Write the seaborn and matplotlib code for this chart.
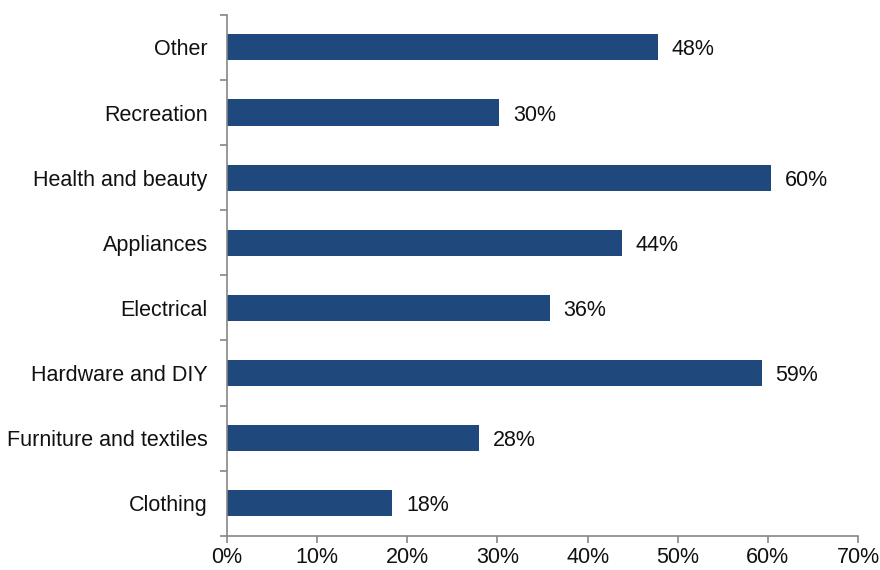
import matplotlib.pyplot as plt
import matplotlib.ticker as mticker
import numpy as np
import pandas as pd
import seaborn as sns

categories = ['Other', 'Recreation', 'Health and beauty', 'Appliances',
              'Electrical', 'Hardware and DIY', 'Furniture and textiles', 'Clothing']
shares = [47.8, 30.2, 60.4, 43.8, 35.8, 59.3, 27.9, 18.3]

df = pd.DataFrame({'category': categories, 'share': shares})

sns.set_theme(style='white')
plt.rcParams['font.family'] = ['Liberation Sans', 'DejaVu Sans']

fig, ax = plt.subplots(figsize=(8.8, 5.7), dpi=100)
fig.subplots_adjust(left=0.258, right=0.975, top=0.974, bottom=0.06)

sns.barplot(data=df, x='share', y='category', orient='h', color='#1F497D',
            saturation=1, width=0.4, linewidth=0, ax=ax)

texts = ax.bar_label(ax.containers[0], labels=[f'{v:.0f}%' for v in shares],
                     padding=10, fontsize=15.5, color='#111111')
for t in texts:
    t.set_verticalalignment('center_baseline')

ax.set_xlim(0, 70)
ax.set_ylim(len(categories) - 0.5, -0.5)
ax.xaxis.set_major_locator(mticker.MultipleLocator(10))
ax.xaxis.set_major_formatter(mticker.FuncFormatter(lambda v, p: f'{v:.0f}%'))
ax.set_xlabel('')
ax.set_ylabel('')

ax.yaxis.set_minor_locator(mticker.FixedLocator(np.arange(-0.5, len(categories), 1)))
ax.tick_params(axis='y', which='major', length=0, pad=14, labelsize=15.5, labelcolor='#111111')
ax.tick_params(axis='y', which='minor', left=True, length=5, width=1.2, color='#868686', direction='out')
ax.tick_params(axis='x', which='major', bottom=True, length=5, width=1.2, color='#868686',
               direction='out', pad=3, labelsize=15.5, labelcolor='#111111')

for side in ['top', 'right']:
    ax.spines[side].set_visible(False)
for side in ['left', 'bottom']:
    ax.spines[side].set_color('#868686')
    ax.spines[side].set_linewidth(1.2)

plt.savefig('out.png', dpi=100)
